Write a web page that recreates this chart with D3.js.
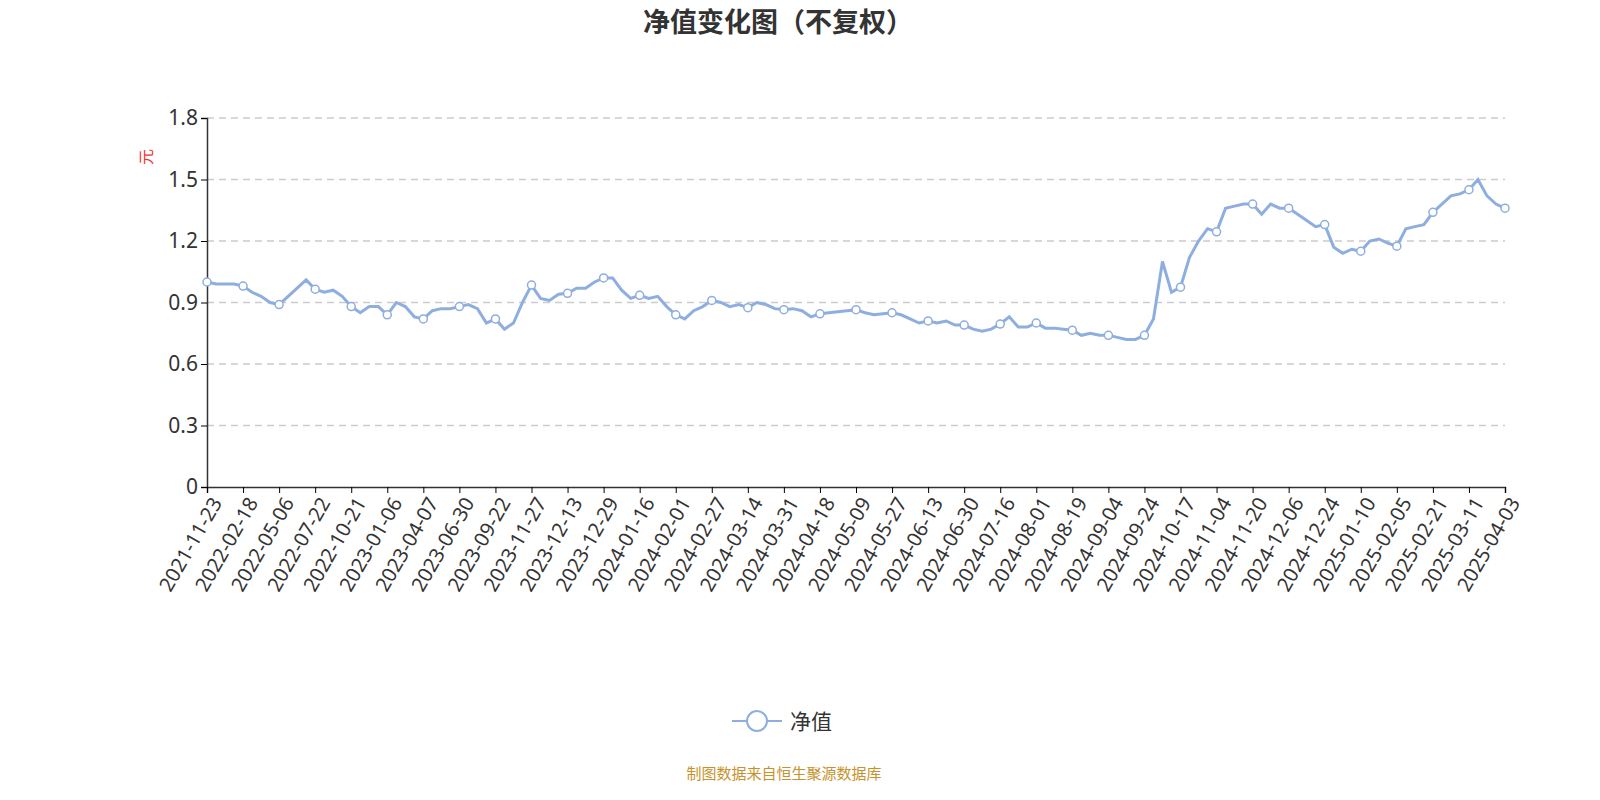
<!DOCTYPE html>
<html><head><meta charset="utf-8">
<script src="https://cdn.jsdelivr.net/npm/d3@7"></script>
<style>body{margin:0;background:#fff;font-family:"Noto Sans CJK SC","Noto Sans",sans-serif}</style>
</head><body><svg id="c" width="1600" height="800"></svg>
<script>
// tick labels, one every 4 points
var labels = ["2021-11-23","2022-02-18","2022-05-06","2022-07-22","2022-10-21","2023-01-06","2023-04-07","2023-06-30","2023-09-22","2023-11-27","2023-12-13","2023-12-29","2024-01-16","2024-02-01","2024-02-27","2024-03-14","2024-03-31","2024-04-18","2024-05-09","2024-05-27","2024-06-13","2024-06-30","2024-07-16","2024-08-01","2024-08-19","2024-09-04","2024-09-24","2024-10-17","2024-11-04","2024-11-20","2024-12-06","2024-12-24","2025-01-10","2025-02-05","2025-02-21","2025-03-11","2025-04-03"]
var values = [
1.00,0.99,0.99,0.99, 0.98,0.95,0.93,0.90, 0.89,0.93,0.97,1.01, 0.965,0.95,0.96,0.93,
0.88,0.85,0.88,0.88, 0.84,0.90,0.88,0.83, 0.82,0.86,0.87,0.87, 0.88,0.89,0.87,0.80,
0.82,0.77,0.80,0.90, 0.985,0.92,0.91,0.94, 0.945,0.97,0.97,1.00, 1.02,1.02,0.96,0.92,
0.935,0.92,0.93,0.88, 0.84,0.82,0.86,0.88, 0.91,0.90,0.88,0.89, 0.875,0.90,0.89,0.87,
0.865,0.87,0.86,0.83, 0.845,0.85,0.855,0.86, 0.865,0.85,0.84,0.845, 0.85,0.84,0.82,0.80,
0.81,0.80,0.81,0.79, 0.79,0.77,0.76,0.77, 0.795,0.83,0.78,0.78, 0.80,0.775,0.775,0.77,
0.765,0.74,0.75,0.74, 0.74,0.73,0.72,0.72, 0.74,0.82,1.10,0.95, 0.975,1.12,1.20,1.26,
1.245,1.36,1.37,1.38, 1.38,1.33,1.38,1.36, 1.36,1.33,1.30,1.27, 1.28,1.17,1.14,1.16,
1.15,1.20,1.21,1.19, 1.175,1.26,1.27,1.28, 1.34,1.38,1.42,1.43, 1.45,1.50,1.42,1.38,
1.36]
var yTicks = [0,0.3,0.6,0.9,1.2,1.5,1.8]

var svg = d3.select("#c")
var x = d3.scaleLinear().domain([0, values.length-1]).range([207,1505])
var y = d3.scaleLinear().domain([0,1.8]).range([487,118])

svg.append("text").attr("x",778).attr("y",32).attr("text-anchor","middle")
  .attr("font-size",27).attr("font-weight","bold").attr("fill","#333").text("净值变化图（不复权）")

svg.selectAll(".grid").data(yTicks.slice(1)).enter().append("line")
  .attr("x1",207).attr("x2",1505).attr("y1",y).attr("y2",y)
  .attr("stroke","#ccc").attr("stroke-width",1.5).attr("stroke-dasharray","7,5")

var ya = svg.append("g").attr("transform","translate(207,0)")
  .call(d3.axisLeft(y).tickValues(yTicks).tickFormat(d3.format("")).tickSize(6))
ya.select(".domain").attr("stroke","#333").attr("stroke-width",1.5)
ya.selectAll("text").attr("font-size",21).attr("fill","#333").attr("font-family","Noto Sans")

var tickIdx = labels.map(function(d,i){return Math.min(i*4, values.length-1)})
var xa = svg.append("g").attr("transform","translate(0,487)")
  .call(d3.axisBottom(x).tickValues(tickIdx).tickFormat(function(d,i){return labels[i]}).tickSize(6))
xa.select(".domain").attr("stroke","#333").attr("stroke-width",1.5)
xa.selectAll("text").attr("font-size",20).attr("fill","#333").attr("font-family","Noto Sans")
  .attr("text-anchor","end").attr("dx","-0.3em").attr("dy","0.6em")
  .attr("transform","rotate(-60)")

svg.append("text").attr("transform","translate(152,157) rotate(-90)").attr("text-anchor","middle")
  .attr("font-size",16).attr("fill","#e33").text("元")

svg.append("path").datum(values)
  .attr("d", d3.line().x(function(d,i){return x(i)}).y(function(d){return y(d)}))
  .attr("fill","none").attr("stroke","#8eaee0").attr("stroke-width",3)

svg.selectAll(".pt").data(tickIdx).enter().append("circle")
  .attr("cx",function(i){return x(i)}).attr("cy",function(i){return y(values[i])})
  .attr("r",4).attr("fill","#fff").attr("stroke","#8eaee0").attr("stroke-width",1.5)

svg.append("line").attr("x1",732).attr("x2",782).attr("y1",721).attr("y2",721)
  .attr("stroke","#8eaee0").attr("stroke-width",2)
svg.append("circle").attr("cx",757).attr("cy",721).attr("r",10)
  .attr("fill","#fff").attr("stroke","#8eaee0").attr("stroke-width",2)
svg.append("text").attr("x",790).attr("y",729).attr("font-size",21).attr("fill","#333").text("净值")

svg.append("text").attr("x",784).attr("y",779).attr("text-anchor","middle")
  .attr("font-size",15).attr("fill","#c8922a").text("制图数据来自恒生聚源数据库")
</script></body></html>
